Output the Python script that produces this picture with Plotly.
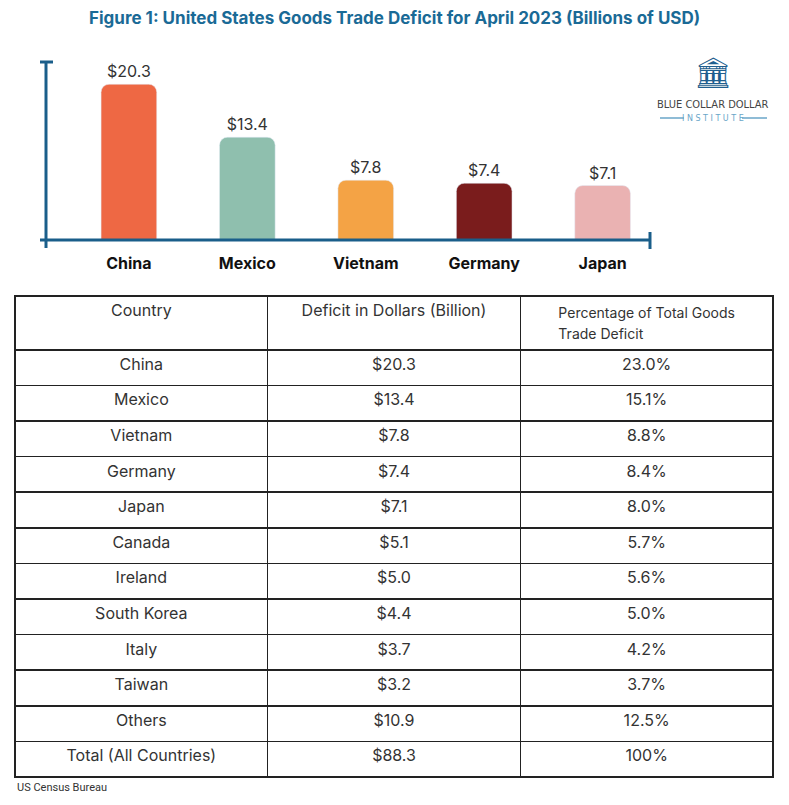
import plotly.graph_objects as go

bar_countries = ["China", "Mexico", "Vietnam", "Germany", "Japan"]
bar_values = [20.3, 13.4, 7.8, 7.4, 7.1]
bar_colors = ["#ee6844", "#8fbfae", "#f4a345", "#7a1c1c", "#eab2b2"]

tbl_countries = ["China", "Mexico", "Vietnam", "Germany", "Japan", "Canada", "Ireland",
                 "South Korea", "Italy", "Taiwan", "Others", "Total (All Countries)"]
tbl_deficit = ["$20.3", "$13.4", "$7.8", "$7.4", "$7.1", "$5.1", "$5.0", "$4.4", "$3.7",
               "$3.2", "$10.9", "$88.3"]
tbl_pct = ["23.0%", "15.1%", "8.8%", "8.4%", "8.0%", "5.7%", "5.6%", "5.0%", "4.2%",
           "3.7%", "12.5%", "100%"]

W, H = 789, 805
OFF = 8
def px(x): return (x - OFF) / W
def py(y): return 1 - (y - OFF) / H

fig = go.Figure()
fig.add_trace(go.Bar(
    x=bar_countries, y=bar_values, marker=dict(color=bar_colors, cornerradius=8),
    width=0.47, texttemplate="$%{y}", textposition="outside", cliponaxis=False,
    textfont=dict(size=16, color="#333", family="Inter"), showlegend=False,
))
fig.add_trace(go.Table(
    domain=dict(x=[px(15), px(773)], y=[py(778), py(296)]),
    columnwidth=[1, 1, 1],
    header=dict(values=["Country", "Deficit in Dollars (Billion)",
                        "<span style='font-size:14px'>Percentage of Total Goods<br>Trade Deficit</span>"],
                align="center", height=38, fill_color="white",
                line=dict(color="#222", width=1.5),
                font=dict(size=16, color="#333", family="Inter")),
    cells=dict(values=[tbl_countries, tbl_deficit, tbl_pct], align="center", height=35.6,
               fill_color="white", line=dict(color="#222", width=1.5),
               font=dict(size=16, color="#333", family="Inter")),
))

axc = "#1a5e8a"
shapes = [
    dict(type="line", xref="paper", yref="paper", x0=px(46), x1=px(46), y0=py(62), y1=py(248), line=dict(color=axc, width=3)),
    dict(type="line", xref="paper", yref="paper", x0=px(40), x1=px(53), y0=py(62), y1=py(62), line=dict(color=axc, width=3)),
    dict(type="line", xref="paper", yref="paper", x0=px(40), x1=px(650), y0=py(240), y1=py(240), line=dict(color=axc, width=3)),
    dict(type="line", xref="paper", yref="paper", x0=px(650), x1=px(650), y0=py(232), y1=py(249), line=dict(color=axc, width=3)),
    dict(type="line", xref="paper", yref="paper", x0=px(660), x1=px(684), y0=py(118), y1=py(118), line=dict(color="#6aa6c8", width=1.5)),
    dict(type="line", xref="paper", yref="paper", x0=px(742), x1=px(767), y0=py(118), y1=py(118), line=dict(color="#6aa6c8", width=1.5)),
]
def ann(text, x, y, size, color, family, xanchor="center"):
    return dict(text=text, x=px(x), y=py(y), xref="paper", yref="paper", showarrow=False,
                xanchor=xanchor, yanchor="middle", font=dict(size=size, color=color, family=family))
fig.update_layout(
    width=W, height=H, margin=dict(l=0, r=0, t=0, b=0),
    paper_bgcolor="white", plot_bgcolor="white",
    xaxis=dict(domain=[px(46), px(650)], range=[-0.7, 4.4], showgrid=False, showline=False,
               ticks="", ticklabelstandoff=12,
               tickfont=dict(size=16, color="#111", family="Inter", weight="bold")),
    yaxis=dict(domain=[py(240), py(62)], range=[0, 23.2], visible=False),
    shapes=shapes,
    annotations=[
        ann("<b>Figure 1: United States Goods Trade Deficit for April 2023 (Billions of USD)</b>",
            394, 18, 17, "#1a6a96", "Inter"),
        ann("US Census Bureau", 15, 787, 11, "#333", "Roboto", "left"),
        ann("BLUE COLLAR DOLLAR", 713, 104, 11, "#444", "DejaVu Sans Condensed"),
        ann("I N S T I T U T E", 713, 118, 8, "#6aa6c8", "DejaVu Sans"),
        ann("🏛", 713, 72, 30, "#1f5f8f", "DejaVu Sans"),
    ],
)
fig.write_html("out.html")
